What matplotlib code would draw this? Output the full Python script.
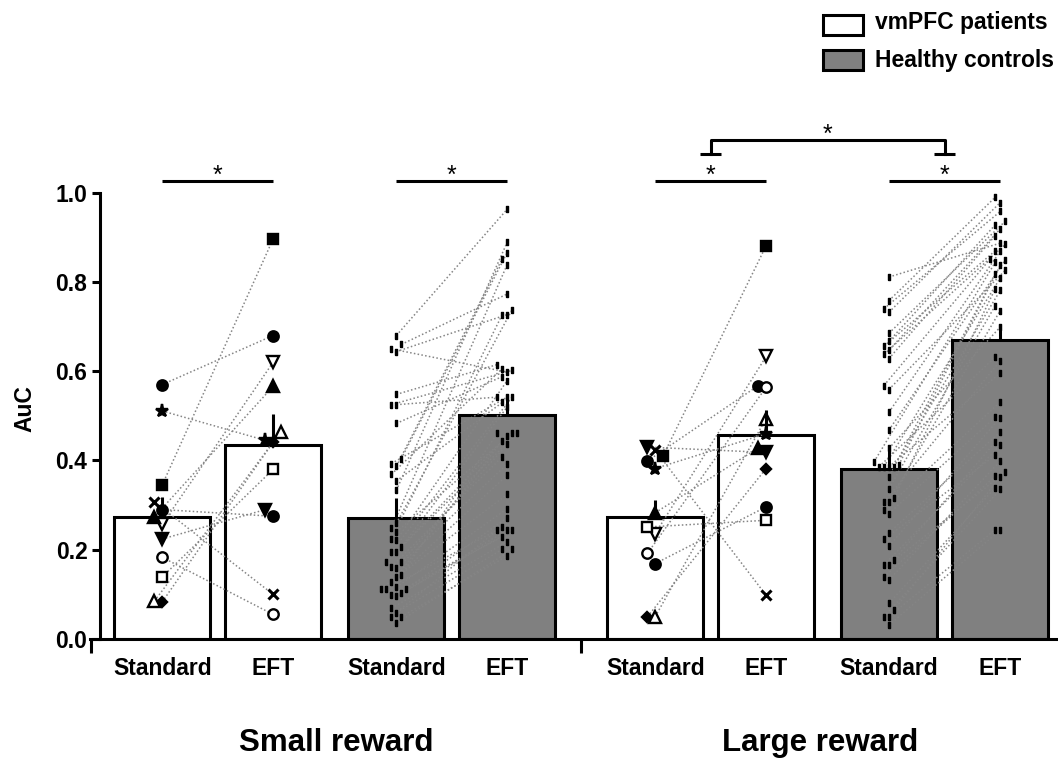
import numpy as np
import matplotlib
matplotlib.use('Agg')
import matplotlib.pyplot as plt
from matplotlib.patches import Rectangle

plt.rcParams['font.family'] = ['Liberation Sans', 'DejaVu Sans']
plt.rcParams['font.weight'] = 'bold'

# ---- data ----
conditions = ['Standard', 'EFT', 'Standard', 'EFT', 'Standard', 'EFT', 'Standard', 'EFT']
reward_labels = ['Small reward', 'Large reward']
group_labels = ['vmPFC patients', 'Healthy controls']

# bar order: patients small std/EFT, controls small std/EFT, patients large std/EFT, controls large std/EFT
bar_means = [0.274, 0.434, 0.270, 0.503, 0.274, 0.458, 0.382, 0.670]
bar_sem = [0.045, 0.071, 0.045, 0.043, 0.037, 0.054, 0.052, 0.035]

# vmPFC patients, one symbol per patient
pat_markers = ['o', 'o', '*', 's', 'x', 'v', 'v', 'o', 's', 'D', '^', '^']
pat_filled = [True, True, True, True, True, False, True, False, False, True, False, True]
pat_small_std = [0.570, 0.290, 0.511, 0.345, 0.307, 0.257, 0.224, 0.183, 0.139, 0.083, 0.085, 0.274]
pat_small_eft = [0.680, 0.275, 0.445, 0.896, 0.100, 0.620, 0.290, 0.055, 0.380, 0.441, 0.464, 0.566]
pat_large_std = [0.399, 0.169, 0.382, 0.410, 0.423, 0.236, 0.430, 0.192, 0.251, 0.050, 0.050, 0.283]
pat_large_eft = [0.568, 0.296, 0.460, 0.881, 0.098, 0.633, 0.418, 0.564, 0.266, 0.382, 0.494, 0.428]

# healthy controls (paired by index)
hc_small_std = [0.680, 0.660, 0.650, 0.644, 0.548, 0.525, 0.525, 0.483, 0.404, 0.393, 0.387,
                0.369, 0.354, 0.333, 0.259, 0.248, 0.240, 0.225, 0.221, 0.206, 0.195, 0.195,
                0.173, 0.173, 0.162, 0.158, 0.143, 0.139, 0.128, 0.116, 0.113, 0.112, 0.112,
                0.102, 0.098, 0.096, 0.069, 0.059, 0.050, 0.050, 0.035]
hc_small_eft = [0.963, 0.773, 0.598, 0.727, 0.615, 0.542, 0.602, 0.588, 0.866, 0.542, 0.852,
                0.606, 0.530, 0.889, 0.738, 0.839, 0.461, 0.727, 0.579, 0.520, 0.455, 0.542,
                0.436, 0.461, 0.408, 0.392, 0.461, 0.444, 0.367, 0.292, 0.324, 0.250, 0.272,
                0.244, 0.229, 0.244, 0.218, 0.201, 0.244, 0.186, 0.201]
hc_large_std = [0.811, 0.758, 0.740, 0.732, 0.685, 0.667, 0.656, 0.647, 0.638, 0.628, 0.568,
                0.559, 0.508, 0.468, 0.427, 0.397, 0.390, 0.386, 0.386, 0.386, 0.386, 0.363,
                0.337, 0.315, 0.307, 0.307, 0.289, 0.281, 0.238, 0.223, 0.208, 0.177, 0.166,
                0.166, 0.139, 0.132, 0.080, 0.065, 0.050, 0.050, 0.031]
hc_large_eft = [0.887, 0.990, 0.958, 0.978, 0.936, 0.928, 0.870, 0.919, 0.884, 0.904, 0.852,
                0.826, 0.869, 0.849, 0.699, 0.844, 0.837, 0.632, 0.809, 0.781, 0.596, 0.817,
                0.747, 0.785, 0.736, 0.623, 0.531, 0.497, 0.464, 0.412, 0.496, 0.441, 0.374,
                0.434, 0.365, 0.399, 0.339, 0.363, 0.245, 0.335, 0.244]

# ---- layout ----
positions = [0.0, 1.12, 2.365, 3.485, 4.98, 6.10, 7.34, 8.465]
bar_colors = ['white', 'white', '#808080', '#808080', 'white', 'white', '#808080', '#808080']
PX = 1 / 99.0      # data units per pixel along x
X0 = 162.2         # pixel of first bar centre
LW = 2.2


def swarm_offsets(vals, dx, dy):
    """simple deterministic column jitter so markers do not overlap"""
    vals = np.asarray(vals)
    offs = np.zeros(len(vals))
    placed = []
    for i in np.argsort(vals):
        for k in [0, -1, 1, -2, 2, -3, 3, -4, 4]:
            if all(not (pk == k and abs(vals[i] - pv) < dy) for pk, pv in placed):
                break
        placed.append((k, vals[i]))
        offs[i] = k * dx
    return offs


fig = plt.figure(figsize=(10.58, 7.58), dpi=100)
ax = fig.add_axes([90 / 1058, 1 - 639 / 758, 968 / 1058, (639 - 192.7) / 758])
ax.set_xlim((90 - X0) * PX, (1058 - X0) * PX)
ax.set_ylim(0, 1.0)

ax.bar(positions, bar_means, width=0.97, color=bar_colors, edgecolor='black',
       linewidth=LW, zorder=1)

line_kw = dict(ls=(0, (1, 1.5)), color='#858585', lw=1.1, zorder=2)

# patients
pat_sets = [(0, 1, pat_small_std, pat_small_eft), (4, 5, pat_large_std, pat_large_eft)]
for a, b, s, e in pat_sets:
    os_ = swarm_offsets(s, 0.078, 0.028)
    oe = swarm_offsets(e, 0.078, 0.028)
    for i in range(len(s)):
        xa, xb = positions[a] + os_[i], positions[b] + oe[i]
        ax.plot([xa, xb], [s[i], e[i]], **line_kw)
        m = pat_markers[i]
        ms = {'o': 7.5, 's': 7.5, '*': 9.5, 'x': 7.5, 'v': 8.5, '^': 8.5, 'D': 5.5}[m]
        fc = 'black' if pat_filled[i] else 'white'
        for xx, yy in [(xa, s[i]), (xb, e[i])]:
            ax.plot(xx, yy, marker=m, ms=ms, mfc=fc, mec='black',
                    mew=2.2 if m == 'x' else 1.7, ls='none', zorder=3)

# healthy controls
rect_marker = [(-0.4, -1), (0.4, -1), (0.4, 1), (-0.4, 1), (-0.4, -1)]
hc_sets = [(2, 3, hc_small_std, hc_small_eft), (6, 7, hc_large_std, hc_large_eft)]
for a, b, s, e in hc_sets:
    os_ = swarm_offsets(s, 0.05, 0.018)
    oe = swarm_offsets(e, 0.05, 0.018)
    xs = positions[a] + os_
    xe = positions[b] + oe
    for i in range(len(s)):
        ax.plot([xs[i], xe[i]], [s[i], e[i]], **line_kw)
    ax.plot(xs, s, marker=rect_marker, ms=5, color='black', ls='none', zorder=3)
    ax.plot(xe, e, marker=rect_marker, ms=5, color='black', ls='none', zorder=3)

# error bars (upper only)
ax.vlines(positions, bar_means, np.array(bar_means) + np.array(bar_sem),
          color='black', lw=LW, zorder=5)

# axes styling
for sp in ['top', 'right']:
    ax.spines[sp].set_visible(False)
ax.spines['left'].set_position(('data', (100 - X0) * PX))
ax.spines['left'].set_linewidth(LW)
ax.spines['bottom'].set_linewidth(LW)

ax.set_yticks(np.arange(0, 1.01, 0.2))
ax.set_yticklabels(['0.0', '0.2', '0.4', '0.6', '0.8', '1.0'])
ax.tick_params(axis='y', direction='out', length=6, width=LW, labelsize=16.5, pad=3)
ax.set_xticks(positions)
ax.set_xticklabels(conditions)
ax.tick_params(axis='x', which='major', length=0, labelsize=16.5, pad=13)
ax.set_xticks([(90.5 - X0) * PX, (581 - X0) * PX], minor=True)
ax.tick_params(axis='x', which='minor', direction='out', length=10, width=LW)

fig.text(25 / 1058, 1 - 409 / 758, 'AuC', rotation=90, ha='center', va='center',
         fontsize=16.5, fontweight='bold')
fig.text(336 / 1058, 1 - 751 / 758, reward_labels[0], ha='center', va='baseline',
         fontsize=22.5, fontweight='bold')
fig.text(820 / 1058, 1 - 751 / 758, reward_labels[1], ha='center', va='baseline',
         fontsize=22.5, fontweight='bold')

# significance markers
sig_y = 1.0255
star_kw = dict(ha='center', va='center', fontsize=18, fontweight='normal', clip_on=False)
for a, b in [(0, 1), (2, 3), (4, 5), (6, 7)]:
    ax.plot([positions[a], positions[b]], [sig_y, sig_y], color='black', lw=LW,
            clip_on=False, solid_capstyle='butt')
    ax.text((positions[a] + positions[b]) / 2, sig_y + 0.012, '*', **star_kw)

left_c = (positions[4] + positions[5]) / 2
right_c = (positions[6] + positions[7]) / 2
top_y, foot_y = 1.1185, 1.087
ax.plot([left_c, left_c, right_c, right_c], [foot_y, top_y, top_y, foot_y],
        color='black', lw=LW, clip_on=False)
for c in (left_c, right_c):
    ax.plot([c - 0.106, c + 0.106], [foot_y, foot_y], color='black', lw=LW,
            clip_on=False, solid_capstyle='butt')
ax.text((left_c + right_c) / 2, top_y + 0.012, '*', **star_kw)

# legend drawn at top right
for i, (lab, col) in enumerate(zip(group_labels, ['white', '#808080'])):
    y_top = [15, 50][i]
    fig.add_artist(Rectangle((822.7 / 1058, 1 - (y_top + 19.5) / 758), 40 / 1058, 19.5 / 758,
                             transform=fig.transFigure, facecolor=col, edgecolor='black',
                             linewidth=LW))
    fig.text(875 / 1058, 1 - [23, 61][i] / 758, lab, ha='left', va='center',
             fontsize=16.5, fontweight='bold')

fig.savefig('out.png', dpi=100)
